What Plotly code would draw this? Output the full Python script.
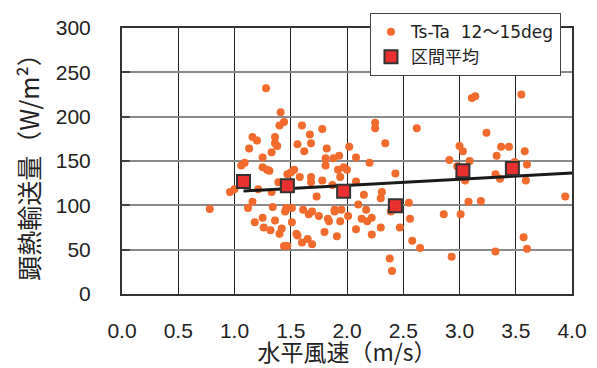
import numpy as np
import plotly.graph_objects as go

# Scatter: wind speed (m/s) vs sensible heat flux (W/m2), Ts-Ta 12~15 deg
wind = [1.28, 1.41, 1.44, 1.40, 1.60, 1.78, 1.67, 1.16, 1.20, 1.36,
        1.36, 1.38, 1.56, 1.68, 1.13, 1.33, 1.62, 1.82, 1.25, 1.81,
        1.81, 1.09, 1.06, 1.25, 1.31, 1.47, 1.50, 1.53, 1.58, 1.68,
        1.39, 1.78, 2.02, 2.08, 1.88, 1.93, 3.57, 3.11, 3.14, 3.55,
        2.25, 2.25, 2.62, 3.24, 2.34, 3.00, 3.03, 3.37, 3.44, 3.33,
        3.58, 2.20, 1.92, 1.97, 2.00, 1.94, 2.08, 2.43, 2.91, 3.09,
        3.00, 3.05, 3.32, 3.36, 3.59, 3.60, 3.49, 3.94, 3.08, 3.19,
        2.86, 3.01, 2.93, 3.57, 3.60, 3.32, 2.55, 2.56, 2.47, 2.58,
        2.65, 2.38, 2.40, 2.30, 2.31, 2.15, 2.10, 2.17, 2.13, 2.18,
        2.22, 2.30, 2.22, 2.08, 2.01, 2.39, 1.87, 1.68, 1.73, 0.96,
        1.00, 1.21, 1.33, 1.16, 1.12, 1.34, 1.45, 1.46, 1.51, 1.61,
        1.66, 1.69, 1.75, 1.83, 1.84, 1.25, 1.18, 1.36, 1.51, 1.26,
        1.32, 1.42, 1.40, 1.55, 1.56, 1.80, 1.65, 1.60, 1.69, 1.44,
        1.47, 0.78, 1.29, 1.89, 1.95, 1.89, 1.94, 1.91, 2.98]
flux = [232, 205, 194, 190, 190, 186, 180, 177, 173, 177,
        170, 167, 169, 170, 164, 160, 161, 164, 154, 153,
        145, 148, 145, 143, 139, 135, 137, 140, 132, 132,
        126, 128, 166, 154, 153, 156, 254, 221, 223, 225,
        193, 187, 187, 182, 170, 167, 161, 166, 166, 156,
        161, 148, 140, 143, 140, 132, 127, 136, 151, 150,
        132, 128, 135, 130, 128, 146, 149, 110, 104, 105,
        90, 90, 42, 64, 51, 48, 103, 85, 75, 60,
        52, 40, 26, 108, 115, 112, 101, 95, 85, 82,
        86, 75, 67, 73, 88, 93, 123, 126, 110, 115,
        118, 118, 115, 104, 97, 98, 93, 97, 97, 95,
        90, 93, 88, 85, 82, 86, 81, 83, 81, 75,
        72, 74, 68, 68, 66, 70, 62, 58, 56, 54,
        54, 96, 140, 95, 95, 93, 82, 65, 144]

# Class (bin) averages
bin_wind = [1.08, 1.47, 1.97, 2.43, 3.03, 3.47]
bin_flux = [127, 122, 116, 99.5, 139, 141.6]

x_ticks = [0.0, 0.5, 1.0, 1.5, 2.0, 2.5, 3.0, 3.5, 4.0]
y_ticks = [0, 50, 100, 150, 200, 250, 300]

# Regression line through the class averages, drawn from first bin to 4.0
slope, intercept = np.polyfit(bin_wind, bin_flux, 1)
line_x = [bin_wind[0], 4.0]
line_y = [slope * v + intercept for v in line_x]

FONT = "Liberation Sans, Arial, Noto Sans CJK JP, sans-serif"
LEG = "DejaVu Sans, Noto Sans CJK JP, sans-serif"
CJK = "Noto Sans CJK JP, sans-serif"

fig = go.Figure()
fig.add_trace(go.Scatter(
    x=wind, y=flux, mode="markers", name="Ts-Ta\u00a0\u00a012～15deg",
    marker=dict(color="#F26A2C", size=8, line=dict(width=0)),
))
fig.add_trace(go.Scatter(
    x=line_x, y=line_y, mode="lines", showlegend=False,
    line=dict(color="#1a1a1a", width=3),
))
fig.add_trace(go.Scatter(
    x=bin_wind, y=bin_flux, mode="markers", name="区間平均",
    marker=dict(symbol="square", color="#E8302E", size=13,
                line=dict(color="#333333", width=2)),
))

# page body has an 8px default margin; the figure is sized to fit the window
fig.update_layout(
    width=589, height=360,
    margin=dict(l=114, r=25, t=20, b=74, autoexpand=False),
    paper_bgcolor="white", plot_bgcolor="white",
    font=dict(family=FONT, size=21, color="#222222"),
    legend=dict(
        x=0.551, y=1.056, xanchor="left", yanchor="top",
        bgcolor="white", bordercolor="#444444", borderwidth=1,
        font=dict(family=LEG, size=17, color="#222222"),
        tracegroupgap=0, itemsizing="trace",
    ),
    xaxis=dict(
        range=[0, 4.0], tickvals=x_ticks,
        ticktext=[f"{v:.1f}" for v in x_ticks],
        showgrid=True, gridcolor="#222222", gridwidth=1,
        showline=True, linecolor="#333333", linewidth=2, mirror=True,
        zeroline=False, ticks="", ticklabelstandoff=17, automargin=False,
        title=dict(text="水平風速（m/s）", standoff=8,
                   font=dict(family=CJK, size=23)),
    ),
    yaxis=dict(
        range=[0, 300], tickvals=y_ticks,
        showgrid=True, gridcolor="#8a8a8a", gridwidth=1.5,
        showline=True, linecolor="#333333", linewidth=2, mirror=True,
        zeroline=False, ticks="inside", ticklen=8, tickcolor="#444444",
        tickwidth=2, ticklabelstandoff=25, automargin=False,
        title=dict(text="顕熱輸送量（W/m²）", standoff=9,
                   font=dict(family=CJK, size=25)),
    ),
)

fig.write_html("out.html")
